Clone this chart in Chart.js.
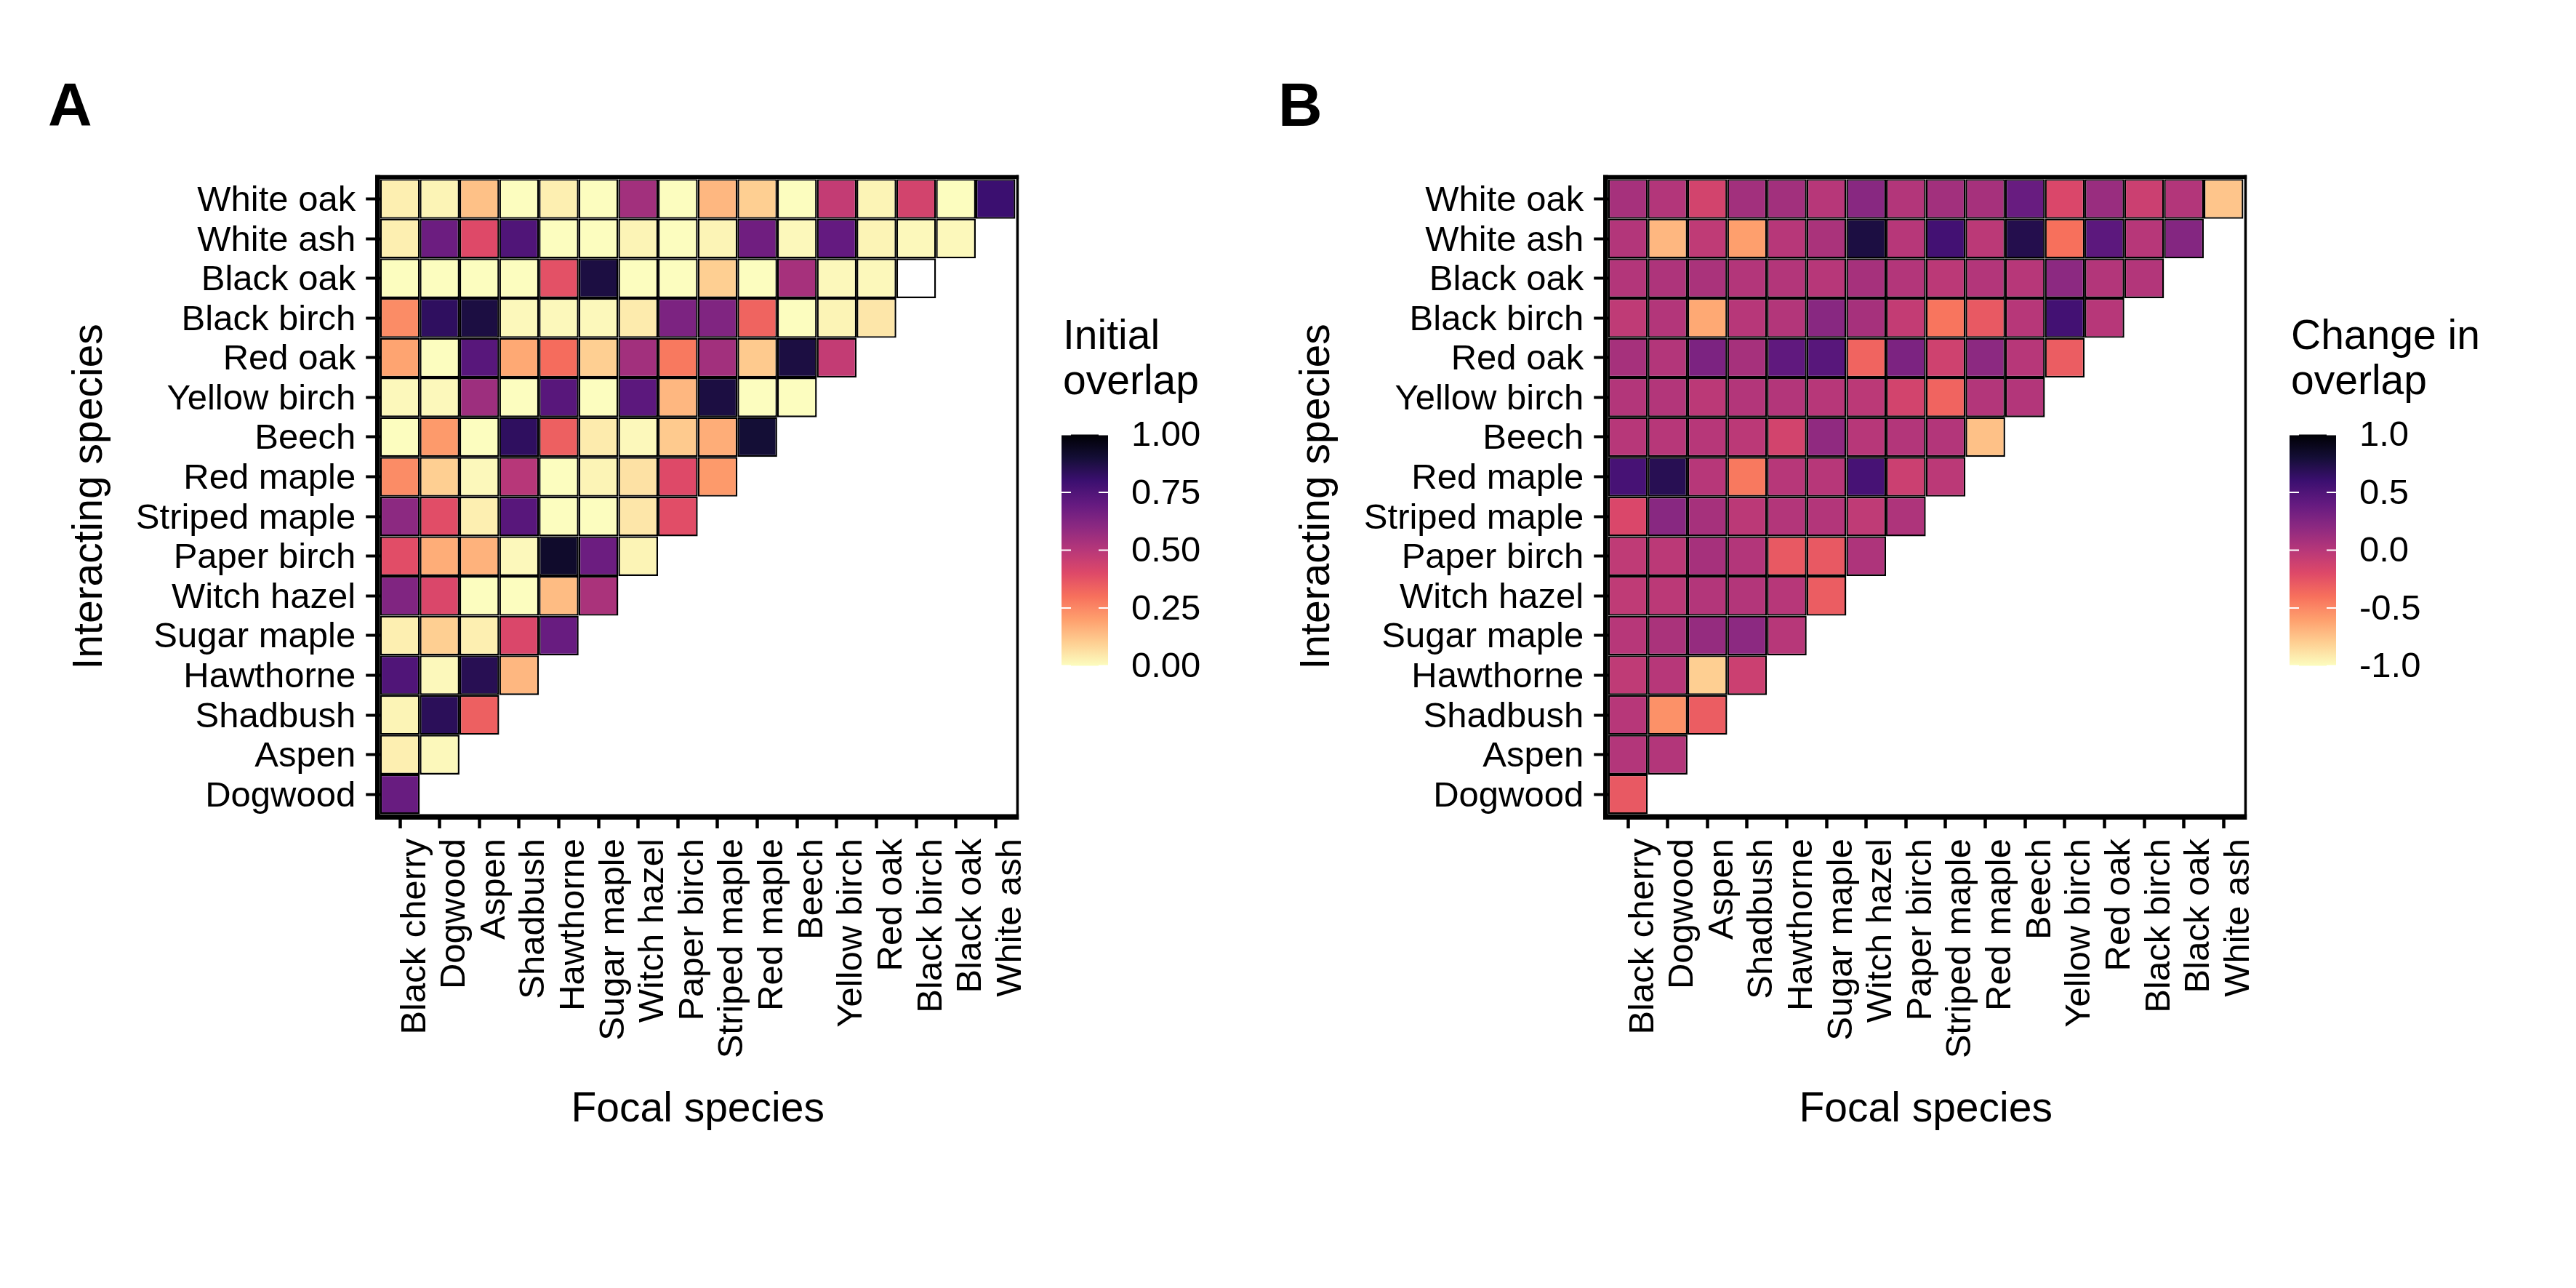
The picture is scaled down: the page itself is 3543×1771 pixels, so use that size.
<!DOCTYPE html>
<html>
<head>
<meta charset="utf-8">
<script src="https://cdn.jsdelivr.net/npm/chart.js@4.4.1/dist/chart.umd.min.js"></script>
<style>
  html, body { margin: 0; padding: 0; background: #ffffff; }
  body { width: 3543px; height: 1771px; position: relative; overflow: hidden; }
  #wrapA { position: absolute; left: 0; top: 0; width: 1700px; height: 1771px; }
  #wrapB { position: absolute; left: 1700px; top: 0; width: 1843px; height: 1771px; }
</style>
</head>
<body>
<div id="wrapA"><canvas id="chartA"></canvas></div>
<div id="wrapB"><canvas id="chartB"></canvas></div>
<script>
// ---------------- DATA ----------------
const focalSpecies = ["Black cherry", "Dogwood", "Aspen", "Shadbush", "Hawthorne", "Sugar maple",
  "Witch hazel", "Paper birch", "Striped maple", "Red maple", "Beech", "Yellow birch",
  "Red oak", "Black birch", "Black oak", "White ash"];

// bottom to top
const interactingSpecies = ["Dogwood", "Aspen", "Shadbush", "Hawthorne", "Sugar maple", "Witch hazel",
  "Paper birch", "Striped maple", "Red maple", "Beech", "Yellow birch", "Red oak",
  "Black birch", "Black oak", "White ash", "White oak"];

// rows follow interactingSpecies, columns follow focalSpecies (null = missing)
const initialOverlap = [
  [0.69],
  [0.03, 0.01],
  [0.02, 0.84, 0.34],
  [0.75, 0.01, 0.85, 0.15],
  [0.03, 0.10, 0.03, 0.41, 0.69],
  [0.63, 0.41, 0.00, 0.00, 0.14, 0.53],
  [0.39, 0.17, 0.16, 0.01, 0.92, 0.68, 0.02],
  [0.60, 0.39, 0.03, 0.73, 0.00, 0.00, 0.05, 0.39],
  [0.24, 0.10, 0.01, 0.50, 0.00, 0.02, 0.06, 0.40, 0.21],
  [0.00, 0.21, 0.00, 0.83, 0.34, 0.04, 0.01, 0.11, 0.17, 0.90],
  [0.01, 0.01, 0.56, 0.00, 0.73, 0.00, 0.72, 0.15, 0.88, 0.00, 0.00],
  [0.19, 0.00, 0.73, 0.18, 0.31, 0.10, 0.55, 0.28, 0.55, 0.11, 0.88, 0.47],
  [0.24, 0.83, 0.88, 0.01, 0.01, 0.01, 0.04, 0.64, 0.63, 0.33, 0.00, 0.02, 0.05],
  [0.00, 0.00, 0.00, 0.00, 0.38, 0.88, 0.00, 0.00, 0.10, 0.00, 0.54, 0.01, 0.01, null],
  [0.03, 0.68, 0.40, 0.75, 0.00, 0.00, 0.02, 0.00, 0.02, 0.67, 0.01, 0.70, 0.02, 0.01, 0.01],
  [0.03, 0.02, 0.13, 0.00, 0.03, 0.00, 0.55, 0.00, 0.15, 0.10, 0.00, 0.47, 0.02, 0.43, 0.00, 0.80]
];

const changeInOverlap = [
  [-0.28],
  [0.02, 0.02],
  [0.00, -0.54, -0.30],
  [-0.04, 0.00, -0.80, -0.10],
  [0.00, 0.06, 0.16, 0.20, 0.00],
  [-0.04, -0.02, 0.02, 0.02, 0.00, -0.30],
  [-0.04, -0.02, 0.08, 0.02, -0.28, -0.28, 0.04],
  [-0.18, 0.22, 0.08, -0.02, 0.02, 0.02, -0.04, 0.04],
  [0.54, 0.70, 0.00, -0.44, 0.00, 0.00, 0.54, -0.10, -0.02],
  [0.00, 0.00, 0.00, -0.02, -0.14, 0.18, 0.00, 0.02, 0.02, -0.74],
  [0.02, 0.02, -0.02, 0.02, 0.02, 0.00, -0.02, -0.14, -0.34, 0.02, 0.02],
  [0.08, 0.02, 0.28, 0.08, 0.42, 0.46, -0.34, 0.28, -0.12, 0.20, 0.00, -0.30],
  [-0.04, 0.02, -0.64, 0.00, 0.02, 0.22, 0.08, -0.06, -0.42, -0.28, 0.00, 0.56, 0.00],
  [0.02, 0.04, 0.06, 0.02, 0.02, 0.00, 0.08, 0.02, -0.02, 0.02, 0.00, 0.20, 0.02, 0.02],
  [0.02, -0.70, -0.04, -0.60, 0.00, 0.06, 0.76, 0.00, 0.56, -0.02, 0.72, -0.40, 0.44, 0.00, 0.24],
  [0.08, 0.02, -0.14, 0.10, 0.10, 0.00, 0.22, 0.02, 0.10, 0.08, 0.38, -0.18, 0.14, -0.10, 0.02, -0.76]
];

const initialTicks = [0, 0.25, 0.5, 0.75, 1];
const initialTickLabels = ["0.00", "0.25", "0.50", "0.75", "1.00"];
const changeTicks = [-1, -0.5, 0, 0.5, 1];
const changeTickLabels = ["-1.0", "-0.5", "0.0", "0.5", "1.0"];

// ---------------- STYLE ----------------
const FONT = '"Liberation Sans", Arial, Helvetica, sans-serif';
Chart.defaults.font.family = FONT;
Chart.defaults.color = '#000000';

const MAGMA = ['#000004', '#140e36', '#3b0f70', '#641a80', '#8c2981', '#b73779',
  '#de4968', '#f7705c', '#fe9f6d', '#fecf92', '#fcfdbf'];
function hexToRgb(h) { return [parseInt(h.slice(1, 3), 16), parseInt(h.slice(3, 5), 16), parseInt(h.slice(5, 7), 16)]; }
const MAGMA_RGB = MAGMA.map(hexToRgb);
function magma(t) {
  t = Math.max(0, Math.min(1, t));
  const p = t * (MAGMA_RGB.length - 1);
  const i = Math.min(Math.floor(p), MAGMA_RGB.length - 2);
  const f = p - i;
  const a = MAGMA_RGB[i], b = MAGMA_RGB[i + 1];
  const c = a.map((v, k) => Math.round(v + (b[k] - v) * f));
  return `rgb(${c[0]},${c[1]},${c[2]})`;
}

const panelPlugin = {
  id: 'panelDecor',
  afterDraw(chart, args, o) {
    const { ctx, chartArea: a } = chart;
    ctx.save();
    // panel frame: thick left / bottom / top, thin right
    ctx.fillStyle = '#000';
    const L = a.left - 6.7, R = a.right + 4.6, T = a.top - 5.5, B = a.bottom + 7.5;
    ctx.fillRect(L, T, 6.7, B - T);            // left
    ctx.fillRect(L, a.bottom, R - L, 7.5);      // bottom
    ctx.fillRect(L, T, R - L, 5.5);             // top
    ctx.fillRect(a.right + 1.1, T, 3.5, B - T); // right

    // panel letter
    ctx.font = `bold 84px ${FONT}`;
    ctx.textAlign = 'left';
    ctx.textBaseline = 'alphabetic';
    ctx.fillText(o.letter, o.letterX, 173);

    // colour bar
    const bx = o.barX, bw = 64, top = 597.5, bottom = 915.5;
    const g = ctx.createLinearGradient(0, bottom, 0, top);
    for (let k = 0; k <= 20; k++) g.addColorStop(k / 20, magma(1 - k / 20));
    ctx.fillStyle = g;
    ctx.fillRect(bx, top, bw, bottom - top);
    ctx.strokeStyle = '#ffffff';
    ctx.lineWidth = 2;
    ctx.font = `49px ${FONT}`;
    ctx.textBaseline = 'middle';
    o.ticks.forEach((v, k) => {
      const y = bottom - (v - o.vmin) / (o.vmax - o.vmin) * (bottom - top);
      ctx.beginPath();
      ctx.moveTo(bx, y); ctx.lineTo(bx + 13, y);
      ctx.moveTo(bx + bw - 13, y); ctx.lineTo(bx + bw, y);
      ctx.stroke();
      ctx.fillStyle = '#000';
      ctx.fillText(o.tickLabels[k], bx + 96, y + 2);
    });
    // legend title
    ctx.font = `57px ${FONT}`;
    ctx.textBaseline = 'alphabetic';
    ctx.fillStyle = '#000';
    o.title.forEach((line, k) => ctx.fillText(line, bx + 2, 480 + k * 62));
    ctx.restore();
  }
};

function buildChart(canvasId, matrix, vmin, vmax, geom, decor) {
  const datasets = interactingSpecies.map((rowName, j) => {
    const row = matrix[j];
    return {
      label: rowName,
      data: focalSpecies.map((_, i) => (i < row.length ? [j - 0.5, j + 0.5] : null)),
      backgroundColor: focalSpecies.map((_, i) => {
        const v = row[i];
        if (v === null || v === undefined) return '#ffffff';
        return magma(1 - (v - vmin) / (vmax - vmin));
      }),
      borderColor: '#000000',
      borderWidth: 2.4,
      borderSkipped: false,
      inflateAmount: 0,
      grouped: false,
      categoryPercentage: 1,
      barPercentage: 1
    };
  });

  return new Chart(document.getElementById(canvasId), {
    type: 'bar',
    data: { labels: focalSpecies, datasets },
    plugins: [panelPlugin],
    options: {
      responsive: true,
      maintainAspectRatio: false,
      animation: false,
      devicePixelRatio: 1,
      layout: { padding: { left: 0, top: 246.2, right: geom.padRight, bottom: 0 } },
      plugins: {
        legend: { display: false },
        tooltip: { enabled: false },
        panelDecor: decor
      },
      scales: {
        x: {
          type: 'category',
          position: 'bottom',
          offset: true,
          grid: { display: true, offset: false, drawOnChartArea: false, drawTicks: true,
                  tickLength: 19.5, tickWidth: 4.5, tickColor: '#000' },
          border: { display: false },
          ticks: { autoSkip: false, minRotation: 90, maxRotation: 90, color: '#000',
                   font: { size: 49, family: FONT }, padding: 14, labelOffset: 21 },
          title: { display: true, text: 'Focal species', color: '#000',
                   font: { size: 57, family: FONT }, padding: { top: 0, bottom: 210.5 } },
          afterFit: (s) => { s.height = 651.5; }
        },
        y: {
          type: 'linear',
          position: 'left',
          min: -0.5,
          max: 15.5,
          afterBuildTicks: (s) => { s.ticks = interactingSpecies.map((_, j) => ({ value: j })); },
          grid: { display: true, drawOnChartArea: false, drawTicks: true,
                  tickLength: 19.5, tickWidth: 4, tickColor: '#000' },
          border: { display: false },
          ticks: { autoSkip: false, color: '#000', font: { size: 49, family: FONT }, padding: 14,
                   labelOffset: 3, callback: (v) => interactingSpecies[Math.round(v)] },
          title: { display: true, text: 'Interacting species', color: '#000',
                   font: { size: 57, family: FONT }, padding: { top: geom.yTitlePad, bottom: 0 } },
          afterFit: (s) => { s.width = geom.axisWidth; }
        }
      }
    }
  });
}

buildChart('chartA', initialOverlap, 0, 1,
  { padRight: 303.4, axisWidth: 522.7, yTitlePad: 90 },
  { letter: 'A', letterX: 66, barX: 1460, vmin: 0, vmax: 1,
    ticks: initialTicks, tickLabels: initialTickLabels, title: ['Initial', 'overlap'] });

buildChart('chartB', changeInOverlap, -1, 1,
  { padRight: 457.4, axisWidth: 511.7, yTitlePad: 78 },
  { letter: 'B', letterX: 58, barX: 1449, vmin: -1, vmax: 1,
    ticks: changeTicks, tickLabels: changeTickLabels, title: ['Change in', 'overlap'] });
</script>
</body>
</html>
